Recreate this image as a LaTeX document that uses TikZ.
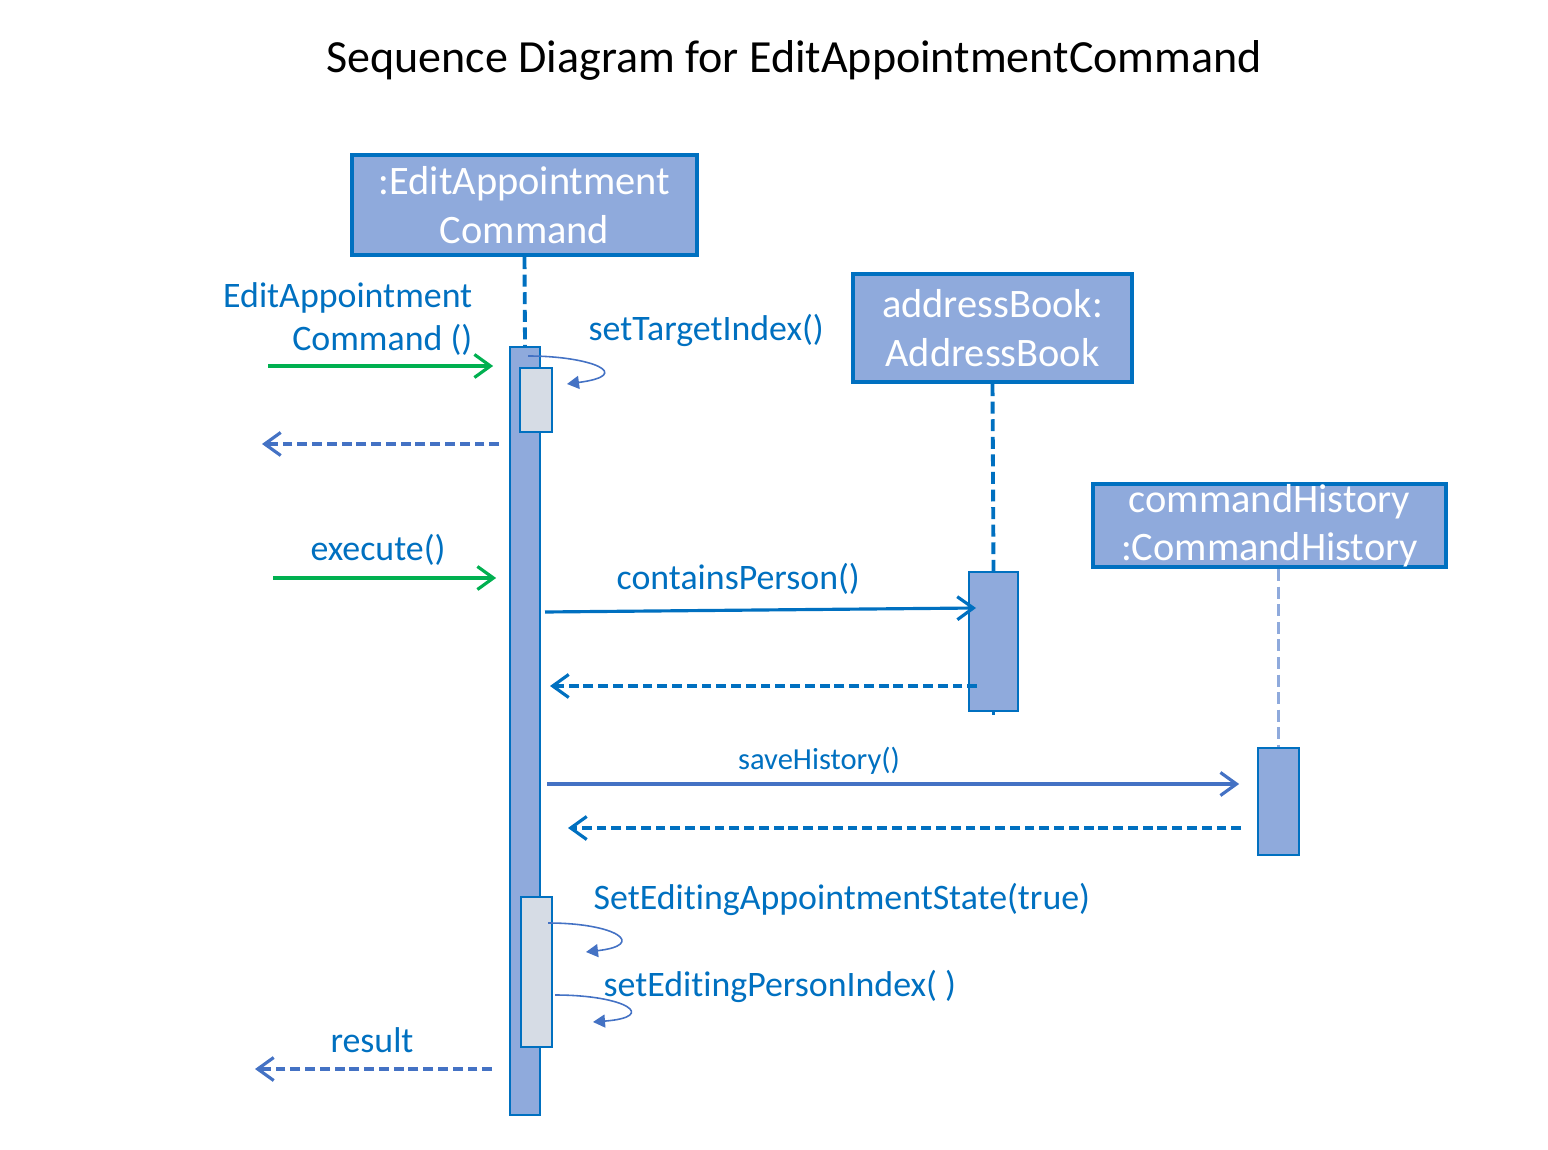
\documentclass[tikz,border=0pt]{standalone}
\usepackage{fontspec}
\setmainfont{Carlito}[Ligatures=NoCommon]
\usetikzlibrary{arrows.meta}
\definecolor{objfill}{HTML}{8FAADC}
\definecolor{objline}{HTML}{0070C0}
\definecolor{subfill}{HTML}{D6DCE5}
\definecolor{arrblue}{HTML}{4472C4}
\definecolor{arrgreen}{HTML}{00B050}

\begin{document}
\begin{tikzpicture}[
  objbox/.style={draw=objline, line width=1.2pt, fill=objfill, text=white, align=center, inner sep=0pt, font=\fontsize{11.5}{13.8}\selectfont},
  actbar/.style={draw=objline, line width=0.5pt, fill=objfill, inner sep=0pt},
  subbar/.style={draw=objline, line width=0.5pt, fill=subfill, inner sep=0pt},
  msglabel/.style={text=objline, inner sep=0pt, font=\fontsize{10.2}{12.2}\selectfont},
  lifeline/.style={draw=objline, line width=1.1pt, dash pattern=on 3.4pt off 1.6pt},
  callin/.style={draw=arrgreen, line width=0.9pt, -{Straight Barb[length=1.6mm,width=2.3mm]}},
  call/.style={line width=0.9pt, -{Straight Barb[length=1.6mm,width=2.3mm]}},
  ret/.style={line width=0.9pt, dash pattern=on 2.8pt off 1.4pt, -{Straight Barb[length=1.6mm,width=2.3mm]}},
  selfcall/.style={draw=arrblue, line width=0.45pt, -{Triangle[length=1.2mm,width=1.3mm]}}]
\useasboundingbox (0,0) rectangle (15.48,-11.5);

\node[inner sep=0pt, font=\fontsize{13.1}{15}\selectfont] (title) at (7.94,-0.60) {Sequence Diagram for EditAppointmentCommand};

\node[objbox, minimum width=3.45cm, minimum height=1.0cm] (boxEAC) at (5.245,-2.05) {:EditAppointment\\Command};
\node[objbox, minimum width=2.79cm, minimum height=1.08cm] (boxAB) at (9.925,-3.28) {addressBook:\\AddressBook};
\node[objbox, minimum width=3.53cm, minimum height=0.83cm] (boxCH) at (12.695,-5.255) {commandHistory\\:CommandHistory};

\node[actbar, minimum width=0.30cm, minimum height=7.68cm] (barEAC) at (5.25,-7.31) {};
\node[actbar, minimum width=0.49cm, minimum height=1.39cm] (barAB) at (9.935,-6.415) {};
\node[actbar, minimum width=0.41cm, minimum height=1.07cm] (barCH) at (12.785,-8.015) {};
\node[subbar, minimum width=0.32cm, minimum height=0.64cm] (subEAC1) at (5.36,-4.00) {};
\node[subbar, minimum width=0.31cm, minimum height=1.50cm] (subEAC2) at (5.365,-9.72) {};

\draw[lifeline] (boxEAC.south) -- (barEAC.north);
\draw[lifeline] (boxAB.south) -- (barAB.north);
\draw[draw=objline, line width=1pt] (barAB.south) -- ++(0,-0.03);
\draw[lifeline, draw=objfill, line width=1pt] (boxCH.south -| barCH.north) -- (barCH.north);

\node[msglabel, anchor=east, align=right] (lblNew) at (4.73,-3.19) {EditAppointment\\Command ()};
\node[msglabel, anchor=west] (lblSet) at (5.88,-3.30) {setTargetIndex()};
\node[msglabel] (lblExec) at (3.78,-5.50) {execute()};
\node[msglabel, anchor=west] (lblCont) at (6.16,-5.79) {containsPerson()};
\node[msglabel, font=\fontsize{8.7}{10}\selectfont] (lblSave) at (8.19,-7.61) {saveHistory()};
\node[msglabel, anchor=west] (lblState) at (5.93,-8.99) {SetEditingAppointmentState(true)};
\node[msglabel, anchor=west] (lblIndex) at (6.03,-9.86) {setEditingPersonIndex( )};
\node[msglabel] (lblRes) at (3.72,-10.40) {result};

\coordinate (newS) at (2.68,-3.66);
\coordinate (newR) at (2.62,-4.44);
\coordinate (execS) at (2.73,-5.78);
\coordinate (contS) at (5.45,-6.12);
\coordinate (contE) at (9.76,-6.08);
\coordinate (contR) at (5.50,-6.86);
\coordinate (saveS) at (5.47,-7.84);
\coordinate (saveR) at (5.68,-8.28);
\coordinate (resR) at (2.55,-10.69);
\coordinate (selfA) at (5.28,-3.56);
\coordinate (selfAe) at (5.67,-3.84);
\coordinate (selfB) at (5.48,-9.23);
\coordinate (selfBe) at (5.86,-9.52);
\coordinate (selfC) at (5.55,-9.95);
\coordinate (selfCe) at (5.93,-10.22);

\draw[callin, shorten >=0.16cm] (newS) -- (barEAC.west |- newS);
\draw[ret, draw=arrblue, shorten <=0.10cm] (barEAC.west |- newR) -- (newR);
\draw[callin, shorten >=0.13cm] (execS) -- (barEAC.west |- execS);
\draw[call, draw=objline] (contS) -- (contE);
\draw[ret, draw=objline, shorten <=-0.09cm] (barAB.west |- contR) -- (contR);
\draw[call, draw=arrblue, shorten >=0.18cm] (saveS) -- (barCH.west |- saveS);
\draw[ret, draw=objline, shorten <=0.16cm] (barCH.west |- saveR) -- (saveR);
\draw[ret, draw=arrblue, shorten <=0.17cm] (barEAC.west |- resR) -- (resR);

\draw[selfcall] (selfA) .. controls (5.92,-3.56) and (6.35,-3.75) .. (selfAe);
\draw[selfcall] (selfB) .. controls (6.17,-9.23) and (6.47,-9.45) .. (selfBe);
\draw[selfcall] (selfC) .. controls (6.27,-9.95) and (6.58,-10.17) .. (selfCe);
\end{tikzpicture}
\end{document}
